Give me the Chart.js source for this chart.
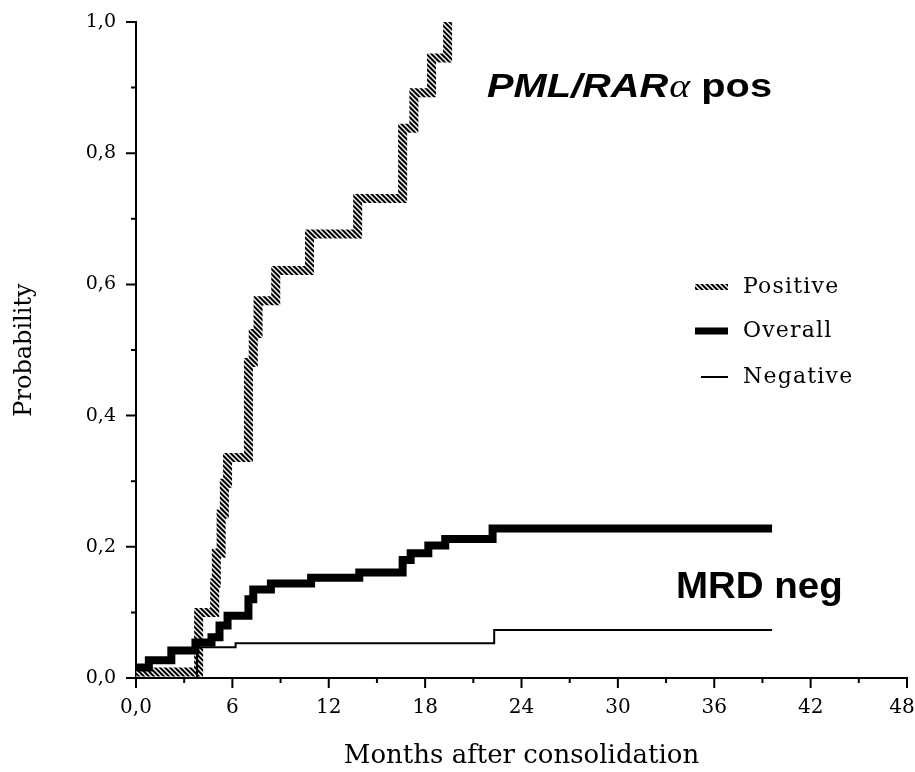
<!DOCTYPE html>
<html><head><meta charset="utf-8">
<script src="https://cdn.jsdelivr.net/npm/chart.js@4/dist/chart.umd.min.js"></script>
<style>html,body{margin:0;padding:0;background:#fff}#wrap{width:915px;height:772px;position:relative}</style>
</head><body><div id="wrap"><canvas id="c" width="915" height="772"></canvas></div>
<script>
// ---- data ----
const posMonths = [0, 3.9, 4.9, 5.0, 5.3, 5.5, 5.7, 7.0, 7.3, 7.6, 8.7, 10.8, 13.8, 16.6, 17.3, 18.4, 19.4];
const posProb   = [0.009, 0.1, 0.145, 0.19, 0.25, 0.297, 0.336, 0.481, 0.525, 0.575, 0.621, 0.677, 0.731, 0.838, 0.892, 0.945, 1.0];
const allMonths = [0, 0.8, 2.2, 3.7, 4.7, 5.2, 5.7, 7.0, 7.3, 8.4, 10.9, 13.9, 16.6, 17.1, 18.2, 19.25, 22.2, 39.6];
const allProb   = [0.016, 0.027, 0.042, 0.054, 0.062, 0.08, 0.095, 0.12, 0.135, 0.144, 0.153, 0.161, 0.18, 0.19, 0.202, 0.212, 0.228, 0.228];
const negMonths = [0, 3.8, 6.2, 22.3, 39.6];
const negProb   = [0, 0.047, 0.053, 0.073, 0.073];
const seriesLabels = ['Positive', 'Overall', 'Negative'];
const xTitle = 'Months after consolidation';
const yTitle = 'Probability';
const xMax = 48, xStep = 3, xLabelEvery = 6;
const yMax = 1.0, yStep = 0.1;
const annoPos = ['PML/RAR', '\u03B1', ' pos'];
const annoNeg = 'MRD neg';

const toPts = (xs, ys) => xs.map((x, i) => ({x, y: ys[i]}));
const canvas = document.getElementById('c');
const ctx0 = canvas.getContext('2d');

function makeHatch() {
  const n = 5;
  const c = document.createElement('canvas'); c.width = n; c.height = n;
  const g = c.getContext('2d');
  g.fillStyle = '#000'; g.fillRect(0, 0, n, n);
  g.strokeStyle = '#fff'; g.lineWidth = 1.4;
  g.beginPath();
  g.moveTo(-1, -1); g.lineTo(n + 1, n + 1);
  g.moveTo(-1, n - 1); g.lineTo(1, n + 1);
  g.moveTo(n - 1, -1); g.lineTo(n + 1, 1);
  g.stroke();
  return ctx0.createPattern(c, 'repeat');
}
const hatch = makeHatch();
const serif = "'DejaVu Serif', serif";

function zeroPad(s) { s.paddingLeft = 0; s.paddingRight = 0; s.paddingTop = 0; s.paddingBottom = 0; }

const tickPlugin = {
  id: 'tickmarks',
  afterDraw(chart) {
    const {ctx, scales: {x, y}} = chart;
    ctx.save();
    ctx.strokeStyle = '#000'; ctx.lineWidth = 2; ctx.lineCap = 'butt';
    ctx.beginPath();
    for (let v = 0; v <= xMax + 1e-9; v += xStep) {
      const px = x.getPixelForValue(v);
      const len = (Math.round(v) % xLabelEvery === 0) ? 10 : 5;
      ctx.moveTo(px, y.bottom); ctx.lineTo(px, y.bottom + len);
    }
    for (let i = 0; i <= Math.round(yMax / yStep); i++) {
      const py = y.getPixelForValue(i * yStep);
      const len = (i % 2 === 0) ? 10 : 5;
      ctx.moveTo(x.left, py); ctx.lineTo(x.left - len, py);
    }
    ctx.stroke();
    ctx.restore();
  }
};

const legendPlugin = {
  id: 'customLegend',
  afterDraw(chart) {
    const ctx = chart.ctx;
    const x0 = 695, x1 = 728, tx = 743;
    const rows = [287, 331, 377];
    ctx.save();
    chart.data.datasets.forEach((ds, i) => {
      const yy = rows[i];
      ctx.beginPath();
      ctx.strokeStyle = ds.borderColor;
      ctx.lineWidth = i === 2 ? 2 : (i === 0 ? 6 : 7);
      ctx.lineCap = 'butt';
      ctx.moveTo(i === 2 ? 701 : x0, yy); ctx.lineTo(x1, yy);
      ctx.stroke();
      ctx.fillStyle = '#000';
      ctx.font = "22px " + serif;
      ctx.textBaseline = 'middle';
      ctx.textAlign = 'left';
      ctx.letterSpacing = '1.2px';
      ctx.fillText(ds.label, tx, yy);
    });
    ctx.restore();
  }
};

const annoPlugin = {
  id: 'annotations',
  afterDraw(chart) {
    const ctx = chart.ctx;
    ctx.save();
    ctx.fillStyle = '#000';
    ctx.textBaseline = 'alphabetic';
    ctx.textAlign = 'left';
    ctx.save();
    ctx.translate(487, 97);
    ctx.scale(1.17, 1);
    let cx = 0;
    ctx.font = "italic bold 34px 'Liberation Sans', Arial, sans-serif";
    ctx.fillText(annoPos[0], cx, 0); cx += ctx.measureText(annoPos[0]).width + 1;
    ctx.font = "italic 34px 'Liberation Serif', serif";
    ctx.fillText(annoPos[1], cx, 0); cx += ctx.measureText(annoPos[1]).width;
    ctx.font = "bold 34px 'Liberation Sans', Arial, sans-serif";
    ctx.fillText(annoPos[2], cx, 0);
    ctx.restore();
    ctx.save();
    ctx.translate(676, 598);
    ctx.scale(1.04, 1);
    ctx.font = "bold 37px 'Liberation Sans', Arial, sans-serif";
    ctx.fillText(annoNeg, 0, 0);
    ctx.restore();
    ctx.restore();
  }
};

new Chart(canvas, {
  type: 'line',
  data: {
    datasets: [
      { label: seriesLabels[0], data: toPts(posMonths, posProb), borderColor: hatch, borderWidth: 9,
        stepped: 'before', pointRadius: 0, fill: false, order: 2, clip: false,
        borderCapStyle: 'butt', borderJoinStyle: 'miter' },
      { label: seriesLabels[1], data: toPts(allMonths, allProb), borderColor: '#000', borderWidth: 8,
        stepped: 'before', pointRadius: 0, fill: false, order: 1, clip: false,
        borderCapStyle: 'butt', borderJoinStyle: 'miter' },
      { label: seriesLabels[2], data: toPts(negMonths, negProb), borderColor: '#000', borderWidth: 2,
        stepped: 'before', pointRadius: 0, fill: false, order: 0, clip: false,
        borderCapStyle: 'butt', borderJoinStyle: 'miter' }
    ]
  },
  options: {
    responsive: false,
    animation: false,
    devicePixelRatio: 1,
    layout: { padding: { top: 22, right: 8, bottom: 0, left: 0 } },
    plugins: { legend: { display: false }, tooltip: { enabled: false } },
    scales: {
      x: {
        type: 'linear', min: 0, max: xMax,
        afterFit: s => { s.height = 94; zeroPad(s); },
        border: { display: true, color: '#000', width: 2 },
        grid: { display: false, drawTicks: false },
        ticks: {
          stepSize: xStep, autoSkip: false, maxRotation: 0, padding: 18,
          color: '#000', font: { family: serif, size: 20 },
          callback: v => (Math.round(v) % xLabelEvery !== 0) ? '' :
            (v === 0 ? '0,0' : (v === xMax ? String(v) + '\u2002' : String(v)))
        },
        title: { display: true, text: xTitle, color: '#000', font: { family: serif, size: 26 },
                 padding: { top: 0, bottom: 0 } }
      },
      y: {
        type: 'linear', min: 0, max: yMax,
        afterFit: s => { s.width = 136; zeroPad(s); },
        border: { display: true, color: '#000', width: 2 },
        grid: { display: false, drawTicks: false },
        ticks: {
          stepSize: yStep, autoSkip: false, padding: 20,
          color: '#000', font: { family: serif, size: 19 },
          callback: v => (Math.round(v * 10) % 2 !== 0) ? '' : v.toFixed(1).replace('.', ',')
        },
        title: { display: true, text: yTitle, color: '#000', font: { family: serif, size: 24 },
                 padding: { top: 10, bottom: 0 } }
      }
    }
  },
  plugins: [tickPlugin, legendPlugin, annoPlugin]
});
</script>
</body></html>
